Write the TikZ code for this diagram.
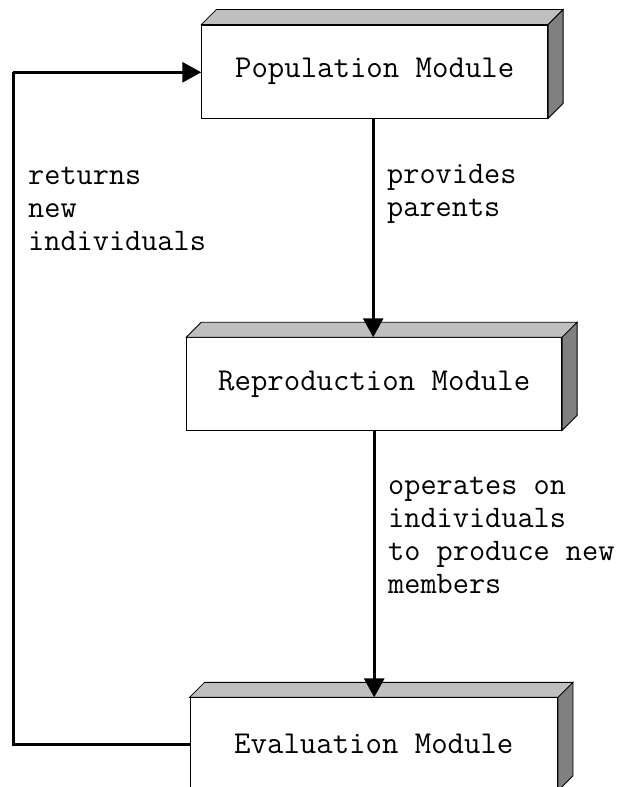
\documentclass[tikz,border=0pt]{standalone}
\usepackage{fontspec}
\usetikzlibrary{arrows.meta}

\tikzset{
  module/.style={draw=black, line width=0.8bp, fill=white, inner sep=0pt,
    font=\ttfamily\fontsize{32}{33}\selectfont},
  topface/.style={draw=black, line width=0.8bp, fill=black!25},
  sideface/.style={draw=black, line width=0.8bp, fill=black!50},
  flow/.style={line width=3bp, -{Triangle[length=19bp,width=20bp]}},
  note/.style={inner sep=0pt, align=left, anchor=base west,
    font=\ttfamily\fontsize{31.5}{33}\selectfont},
}

% raised block: front face is the node, top and right faces drawn behind it
\newcommand{\blockfaces}[1]{%
  \draw[topface] (#1.north west) -- ++(15,-15) -- ([shift={(15,-15)}]#1.north east) -- (#1.north east) -- cycle;
  \draw[sideface] (#1.north east) -- ++(15,-15) -- ([shift={(15,-15)}]#1.south east) -- (#1.south east) -- cycle;
}

\begin{document}
\begin{tikzpicture}[x=1bp, y=-1bp]
  \useasboundingbox (0,0) rectangle (630,787);
  \clip (0,0) rectangle (630,787);

  \node[module, minimum width=346bp, minimum height=93bp] (pop) at (374.7,71.5) {Population Module};
  \node[module, minimum width=375bp, minimum height=92.3bp] (rep) at (374.2,383.8) {Reproduction Module};
  \node[module, minimum width=367.7bp, minimum height=92.5bp] (eva) at (373.8,744) {Evaluation Module};

  \blockfaces{pop}
  \blockfaces{rep}
  \blockfaces{eva}

  \coordinate (corner1) at (13.3,744);
  \coordinate (corner2) at (13.3,72.3);

  \draw[flow] ([xshift=-1.5bp]pop.south) -- ([xshift=-1.5bp]pop.south |- rep.north);
  \draw[flow] (rep.south) -- (rep.south |- eva.north);
  \draw[line width=3bp] (eva.west) -- (corner1) -- (corner2);
  \draw[flow] (corner2) -- (corner2 -| pop.west);

  % the base anchor of a multi-line note sits on its last line
  \node[note] (lblret) at (28,250) {returns\\new\\individuals};
  \node[note] (lblprov) at (387,216) {provides\\parents};
  \node[note] (lblop) at (388,593) {operates on\\individuals\\to produce new\\members};
\end{tikzpicture}
\end{document}
